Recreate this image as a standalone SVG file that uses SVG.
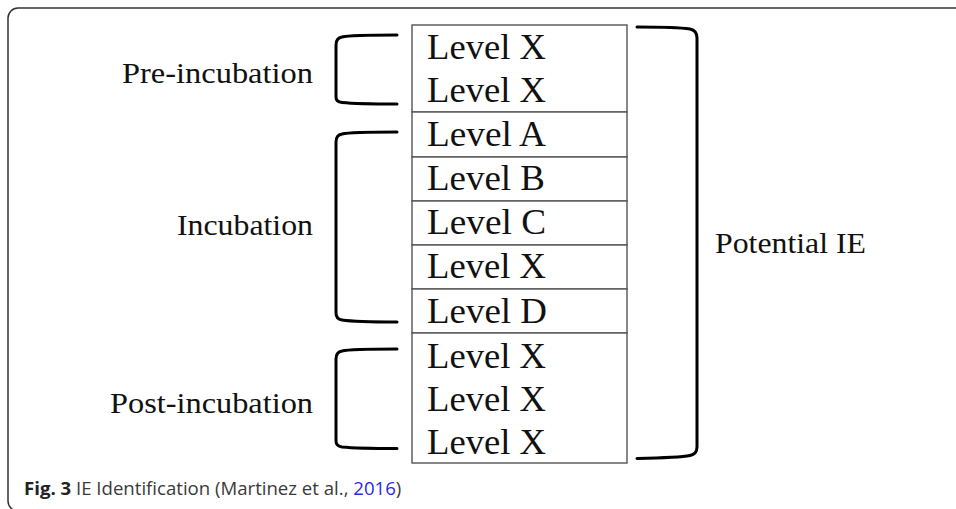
<svg xmlns="http://www.w3.org/2000/svg" width="956" height="509" viewBox="0 0 956 509">
<style>
.lv{font-family:"Liberation Serif","Times New Roman",serif;font-size:35px;fill:#111}
.lb{font-family:"Liberation Serif","Times New Roman",serif;font-size:30px;fill:#111}
.cell{fill:#fff;stroke:#555;stroke-width:1.4}
.br{fill:none;stroke:#000;stroke-width:3;stroke-linecap:round}
.cap{font-family:"Open Sans","Noto Sans",sans-serif;font-size:18.6px;fill:#3a3a3a}
</style>
<rect x="8" y="8" width="970" height="503" rx="10" fill="#fff" stroke="#333" stroke-width="1.5"/>
<g id="stack">
<rect class="cell" x="412" y="25" width="215" height="87"/>
<rect class="cell" x="412" y="112" width="215" height="45"/>
<rect class="cell" x="412" y="157" width="215" height="44"/>
<rect class="cell" x="412" y="201" width="215" height="44"/>
<rect class="cell" x="412" y="245" width="215" height="44"/>
<rect class="cell" x="412" y="289" width="215" height="44"/>
<rect class="cell" x="412" y="333" width="215" height="130"/>
<text class="lv" x="427" y="59" textLength="119" lengthAdjust="spacingAndGlyphs">Level X</text>
<text class="lv" x="427" y="102" textLength="119" lengthAdjust="spacingAndGlyphs">Level X</text>
<text class="lv" x="427" y="146" textLength="119" lengthAdjust="spacingAndGlyphs">Level A</text>
<text class="lv" x="427" y="190" textLength="118" lengthAdjust="spacingAndGlyphs">Level B</text>
<text class="lv" x="427" y="234" textLength="119" lengthAdjust="spacingAndGlyphs">Level C</text>
<text class="lv" x="427" y="278" textLength="119" lengthAdjust="spacingAndGlyphs">Level X</text>
<text class="lv" x="427" y="323" textLength="120" lengthAdjust="spacingAndGlyphs">Level D</text>
<text class="lv" x="427" y="368" textLength="119" lengthAdjust="spacingAndGlyphs">Level X</text>
<text class="lv" x="427" y="411" textLength="119" lengthAdjust="spacingAndGlyphs">Level X</text>
<text class="lv" x="427" y="454" textLength="119" lengthAdjust="spacingAndGlyphs">Level X</text>
</g>
<g id="brackets">
<path class="br" d="M397 35 C370 35 350 35 342 37 Q336 38 336 45 V97 Q336 102 342 102.5 C352 103.5 372 104 397 104"/>
<path class="br" d="M397 132 C370 132 350 132 342 134 Q336 135 336 142 V313 Q336 319 342 320 C352 321.5 372 322 397 322"/>
<path class="br" d="M397 349 C370 349 350 349 342 351 Q336 352 336 359 V441 Q336 446 342 447 C352 448 372 448.5 397 448.5"/>
<path class="br" d="M637 27 C660 27 680 27.5 690 29 Q697 30.5 697 38 V447 Q697 454 690 455.5 C680 457.5 660 458 637 458.5"/>
</g>
<g id="label-pre"><text class="lb" x="122" y="83" textLength="191" lengthAdjust="spacingAndGlyphs">Pre-incubation</text></g>
<g id="label-inc"><text class="lb" x="177" y="235" textLength="136" lengthAdjust="spacingAndGlyphs">Incubation</text></g>
<g id="label-post"><text class="lb" x="110" y="413" textLength="203" lengthAdjust="spacingAndGlyphs">Post-incubation</text></g>
<g id="label-pie"><text class="lb" x="715" y="253" textLength="151" lengthAdjust="spacingAndGlyphs">Potential IE</text></g>
<text class="cap" x="24" y="495"><tspan font-weight="bold" fill="#222">Fig. 3</tspan> IE Identification (Martinez et al., <tspan fill="#2a2ae8">2016</tspan>)</text>
</svg>
